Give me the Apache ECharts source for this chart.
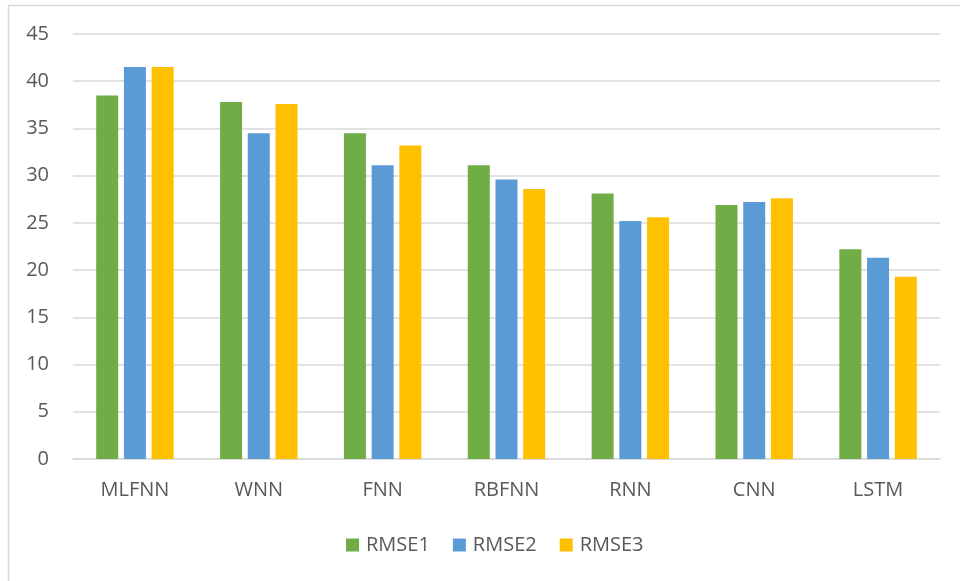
<!DOCTYPE html>
<html>
<head>
<meta charset="utf-8">
<script src="https://cdn.jsdelivr.net/npm/echarts@6/dist/echarts.min.js"></script>
<style>
  html, body { margin: 0; padding: 0; background: #fff; }
  #chart { width: 960px; height: 581px; }
</style>
</head>
<body>
<div id="chart"></div>
<script>
// Model names along the category axis
const categories = ['MLFNN', 'WNN', 'FNN', 'RBFNN', 'RNN', 'CNN', 'LSTM'];

// RMSE values per model
const rmse1 = [38.5, 37.8, 34.5, 31.1, 28.1, 26.9, 22.2];
const rmse2 = [41.5, 34.5, 31.1, 29.6, 25.2, 27.2, 21.3];
const rmse3 = [41.5, 37.6, 33.2, 28.6, 25.6, 27.6, 19.3];

const seriesNames = ['RMSE1', 'RMSE2', 'RMSE3'];
const colors = ['#70ad47', '#5b9bd5', '#ffc000'];

const textColor = '#595959';
const gridColor = '#d9d9d9';
const fontFamily = '"Open Sans", "Noto Sans", sans-serif';

const chart = echarts.init(document.getElementById('chart'), null, { renderer: 'canvas' });

const makeSeries = (name, data, color) => ({
  name: name,
  type: 'bar',
  data: data,
  barWidth: 22,
  barGap: '26%',
  itemStyle: { color: color },
  emphasis: { disabled: true }
});

chart.setOption({
  animation: false,
  backgroundColor: '#ffffff',
  graphic: [{
    type: 'rect',
    shape: { x: 8.5, y: 5.5, width: 1000, height: 1000 },
    style: { fill: 'none', stroke: gridColor, lineWidth: 1.5 },
    silent: true
  }],
  grid: { left: 73, right: 20, top: 34, bottom: 122 },
  legend: {
    data: seriesNames,
    left: 341,
    top: 530,
    itemWidth: 13,
    itemHeight: 13,
    itemGap: 23,
    icon: 'rect',
    textStyle: { color: textColor, fontSize: 20, fontFamily: fontFamily, padding: [0, 0, 0, 2] },
    selectedMode: false
  },
  xAxis: {
    type: 'category',
    data: categories,
    axisLine: { lineStyle: { color: gridColor, width: 1.5 } },
    axisTick: { show: false },
    axisLabel: { color: textColor, fontSize: 20, fontFamily: fontFamily, margin: 21 }
  },
  yAxis: {
    type: 'value',
    min: 0,
    max: 45,
    interval: 5,
    axisLine: { show: false },
    axisTick: { show: false },
    splitLine: { lineStyle: { color: gridColor, width: 1.5 } },
    axisLabel: { color: textColor, fontSize: 20, fontFamily: fontFamily, margin: 24 }
  },
  series: [
    makeSeries(seriesNames[0], rmse1, colors[0]),
    makeSeries(seriesNames[1], rmse2, colors[1]),
    makeSeries(seriesNames[2], rmse3, colors[2])
  ]
});
</script>
</body>
</html>
